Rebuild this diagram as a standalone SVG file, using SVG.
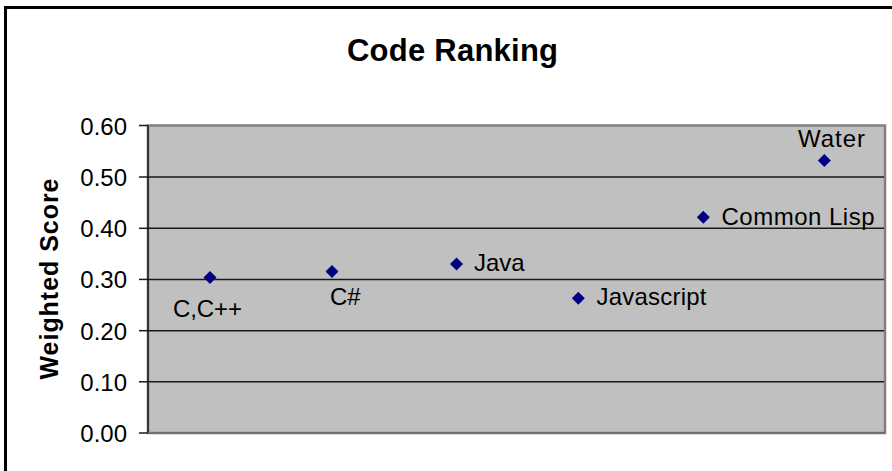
<svg xmlns="http://www.w3.org/2000/svg" width="892" height="471" viewBox="0 0 892 471">
  <defs>
    <style>
      text { font-family: "Liberation Sans", Arial, sans-serif; fill: #000; }
      .title { font-size: 31px; font-weight: bold; }
      .axis-title { font-size: 25px; font-weight: bold; }
      .tick-label { font-size: 24px; text-anchor: end; }
      .point-label { font-size: 24px; }
      .grid { stroke: #1a1a1a; stroke-width: 1.5; }
      .tick { stroke: #1a1a1a; stroke-width: 1.5; }
      .marker { fill: #000080; }
    </style>
    <path id="diamond" d="M0,-6.5 L6.5,0 L0,6.5 L-6.5,0 Z"/>
  </defs>

  <!-- chart background and frame -->
  <rect x="0" y="0" width="892" height="471" fill="#ffffff"/>
  <rect x="5.5" y="7.5" width="900" height="480" fill="#ffffff" stroke="#000" stroke-width="3"/>

  <!-- title -->
  <text class="title" x="452.5" y="60.5" text-anchor="middle" textLength="211" lengthAdjust="spacing">Code Ranking</text>

  <!-- plot area -->
  <g id="plot-area">
    <rect x="148" y="125.5" width="737" height="307.5" fill="#C0C0C0" stroke="#808080" stroke-width="2.5"/>
    <!-- horizontal gridlines, one per 0.10 -->
    <line class="grid" x1="148" y1="177" x2="884" y2="177"/>
    <line class="grid" x1="148" y1="228.3" x2="884" y2="228.3"/>
    <line class="grid" x1="148" y1="279.4" x2="884" y2="279.4"/>
    <line class="grid" x1="148" y1="330.7" x2="884" y2="330.7"/>
    <line class="grid" x1="148" y1="381.8" x2="884" y2="381.8"/>
    <!-- value axis -->
    <line x1="148" y1="125.5" x2="148" y2="433" stroke="#1a1a1a" stroke-width="1.5"/>
    <line x1="148" y1="433" x2="885" y2="433" stroke="#707070" stroke-width="2"/>
  </g>

  <!-- value axis ticks and labels -->
  <g id="value-axis">
    <line class="tick" x1="139" y1="125.5" x2="148" y2="125.5"/>
    <line class="tick" x1="139" y1="177" x2="148" y2="177"/>
    <line class="tick" x1="139" y1="228.3" x2="148" y2="228.3"/>
    <line class="tick" x1="139" y1="279.4" x2="148" y2="279.4"/>
    <line class="tick" x1="139" y1="330.7" x2="148" y2="330.7"/>
    <line class="tick" x1="139" y1="381.8" x2="148" y2="381.8"/>
    <line class="tick" x1="139" y1="433" x2="148" y2="433"/>
    <text class="tick-label" x="127" y="134.5">0.60</text>
    <text class="tick-label" x="127" y="186">0.50</text>
    <text class="tick-label" x="127" y="237.3">0.40</text>
    <text class="tick-label" x="127" y="288.4">0.30</text>
    <text class="tick-label" x="127" y="339.7">0.20</text>
    <text class="tick-label" x="127" y="390.8">0.10</text>
    <text class="tick-label" x="127" y="442">0.00</text>
    <text class="axis-title" transform="translate(58,279) rotate(-90)" text-anchor="middle" textLength="201" lengthAdjust="spacing">Weighted Score</text>
  </g>

  <!-- data points -->
  <g id="point-c-cpp">
    <use href="#diamond" class="marker" x="210" y="277.5"/>
    <text class="point-label" x="173" y="317" textLength="69" lengthAdjust="spacing">C,C++</text>
  </g>
  <g id="point-csharp">
    <use href="#diamond" class="marker" x="332" y="271.5"/>
    <text class="point-label" x="330" y="305">C#</text>
  </g>
  <g id="point-java">
    <use href="#diamond" class="marker" x="456.5" y="264"/>
    <text class="point-label" x="474" y="271">Java</text>
  </g>
  <g id="point-javascript">
    <use href="#diamond" class="marker" x="578.3" y="298.3"/>
    <text class="point-label" x="596.5" y="305" textLength="110" lengthAdjust="spacing">Javascript</text>
  </g>
  <g id="point-common-lisp">
    <use href="#diamond" class="marker" x="703.3" y="217.3"/>
    <text class="point-label" x="721.5" y="224.5" textLength="153" lengthAdjust="spacing">Common Lisp</text>
  </g>
  <g id="point-water">
    <use href="#diamond" class="marker" x="824.3" y="160.5"/>
    <text class="point-label" x="798" y="146.7" textLength="67" lengthAdjust="spacing">Water</text>
  </g>
</svg>
